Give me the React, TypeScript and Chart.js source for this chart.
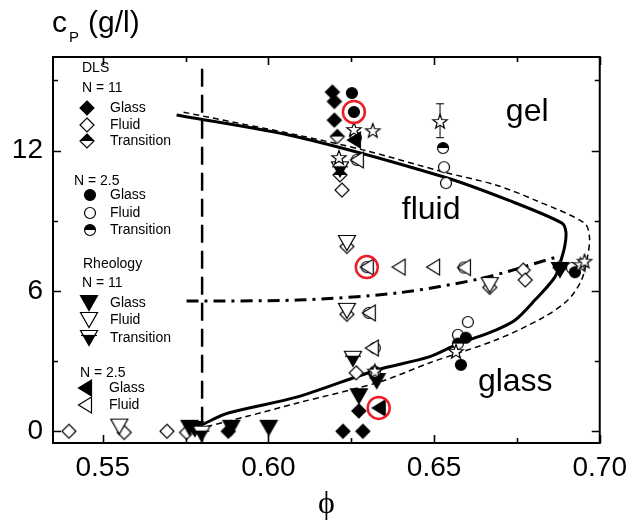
import React, { useEffect, useRef } from 'react';
import { Chart, registerables } from 'chart.js';
Chart.register(...registerables);

type P = [number, number];

// axis ticks
const xTicks = [0.55, 0.6, 0.65, 0.7];
const xMinorTicks = [0.575, 0.625, 0.675];
const yTicks = [0, 6, 12];
const yMinorTicks = [3, 9, 15];

// DLS, N = 11 (diamonds)
const dls11Glass: P[] = [[0.6193, 14.5], [0.6199, 14.1], [0.6199, 13.3], [0.6225, 0], [0.6285, 0], [0.6273, 0.87], [0.5879, 0]];
const dls11Fluid: P[] = [[0.5398, 0], [0.5565, -0.05], [0.5694, 0], [0.5753, -0.05], [0.6265, 2.5], [0.6237, 7.9], [0.6237, 5.0], [0.6668, 6.15], [0.6769, 6.89], [0.6775, 6.47], [0.688, 7.0], [0.6222, 10.31]];
const dls11Trans: P[] = [[0.6208, 12.6], [0.6216, 10.96]];

// DLS, N = 2.5 (circles)
const dls25Glass: P[] = [[0.6252, 14.46], [0.6258, 13.65], [0.6581, 2.84], [0.6596, 4.0], [0.6925, 6.8]];
const dls25Fluid: P[] = [[0.6264, 12.55], [0.6267, 11.6], [0.653, 11.29], [0.6536, 10.61], [0.6297, 7.02], [0.659, 7.0], [0.6303, 5.06], [0.6321, 3.56], [0.6602, 4.67], [0.6572, 4.12], [0.6916, 6.98]];
const dls25Trans: P[] = [[0.6527, 12.11], [0.6321, 2.55], [0.6572, 3.75]];

// Rheology, N = 11 (down triangles)
const rh11Glass: P[] = [[0.5762, 0.15], [0.5778, 0.1], [0.5888, 0.15], [0.6001, 0.15], [0.6273, 1.5], [0.6327, 2.15], [0.688, 6.9]];
const rh11Fluid: P[] = [[0.555, 0.2], [0.6237, 8.05], [0.6237, 5.15], [0.6668, 6.25]];
const rh11Trans: P[] = [[0.5798, -0.1], [0.6255, 3.1], [0.6216, 11.2]];

// Rheology, N = 2.5 (left triangles)
const rh25Glass: P[] = [[0.6333, 1.0], [0.6258, 12.45]];
const rh25Fluid: P[] = [[0.6267, 11.6], [0.6297, 7.02], [0.6393, 7.02], [0.6497, 7.02], [0.659, 7.0], [0.6303, 5.06], [0.6312, 3.56]];

// open stars
const stars: P[] = [[0.6258, 12.88], [0.6315, 12.83], [0.6213, 11.68], [0.6518, 13.22], [0.6321, 2.55], [0.6566, 3.39], [0.6942, 7.1], [0.6954, 7.25]];
const starErrorBar: P[] = [[0.6518, 12.55], [0.6518, 14.0]];

// highlighted points (red rings)
const highlighted: P[] = [[0.6258, 13.65], [0.6297, 7.02], [0.6333, 1.0]];

// boundary lines
const glassLine: P[] = [[0.5723, 13.52], [0.6088, 12.58], [0.653, 10.87], [0.6724, 9.88], [0.6886, 8.9], [0.6898, 8.52], [0.6895, 7.96], [0.6886, 7.45], [0.6865, 6.6], [0.6805, 5.62], [0.6745, 4.76], [0.6686, 4.33], [0.6566, 3.69], [0.6485, 3.18], [0.6327, 2.62], [0.6088, 1.47], [0.5879, 0.78], [0.5798, 0.27]];
const glassLineDashed: P[] = [[0.5744, 13.64], [0.6088, 12.66], [0.6288, 12.02], [0.653, 11.08], [0.6686, 10.53], [0.6805, 9.88], [0.6954, 8.9], [0.6969, 8.3], [0.6963, 7.45], [0.6945, 6.47], [0.6904, 5.61], [0.6826, 4.84], [0.6686, 3.9], [0.6485, 2.92], [0.6336, 2.11], [0.6088, 1.21], [0.5939, 0.65], [0.581, 0.18]];
const gelLine: P[] = [[0.5753, 5.57], [0.6088, 5.61], [0.6387, 5.91], [0.6647, 6.55], [0.688, 7.49]];
const phiLimit: P[] = [[0.58, 15.5], [0.58, -0.45]];

// region labels
const regionLabels: [string, number, number][] = [['gel', 0.6781, 13.65], ['fluid', 0.6491, 9.46], ['glass', 0.6745, 2.11]];

const FONT = '"Liberation Sans", Arial, sans-serif';

type Shape = 'diamond' | 'circle' | 'down' | 'left' | 'star';
type Fill = 'open' | 'filled' | 'half';

function makeMarker(shape: Shape, fill: Fill): HTMLCanvasElement {
  const s = 22;
  const c = document.createElement('canvas');
  c.width = s;
  c.height = s;
  const ctx = c.getContext('2d')!;
  const m = s / 2;
  const path = () => {
    ctx.beginPath();
    if (shape === 'diamond') {
      ctx.moveTo(m, m - 7); ctx.lineTo(m + 7, m); ctx.lineTo(m, m + 7); ctx.lineTo(m - 7, m);
    } else if (shape === 'circle') {
      ctx.arc(m, m, 5.5, 0, Math.PI * 2);
    } else if (shape === 'down') {
      ctx.moveTo(m - 8.5, m - 7.5); ctx.lineTo(m + 8.5, m - 7.5); ctx.lineTo(m, m + 7.5);
    } else if (shape === 'left') {
      ctx.moveTo(m + 6.5, m - 8); ctx.lineTo(m + 6.5, m + 8); ctx.lineTo(m - 6.5, m);
    } else {
      for (let i = 0; i < 10; i++) {
        const r = i % 2 === 0 ? 7.5 : 3.1;
        const a = -Math.PI / 2 + (i * Math.PI) / 5;
        const px = m + r * Math.cos(a);
        const py = m + r * Math.sin(a);
        if (i === 0) ctx.moveTo(px, py); else ctx.lineTo(px, py);
      }
    }
    ctx.closePath();
  };
  ctx.lineWidth = 1.2;
  ctx.strokeStyle = '#000';
  path();
  ctx.fillStyle = fill === 'filled' ? '#000' : '#fff';
  ctx.fill();
  if (fill === 'half') {
    ctx.save();
    path();
    ctx.clip();
    ctx.fillStyle = '#000';
    if (shape === 'down') ctx.fillRect(0, m - 2.5, s, s);
    else ctx.fillRect(0, 0, s, m);
    ctx.restore();
    if (shape === 'down') {
      ctx.beginPath(); ctx.moveTo(m - 8, m - 2.5); ctx.lineTo(m + 8, m - 2.5); ctx.stroke();
    }
  }
  path();
  ctx.stroke();
  return c;
}

const toXY = (d: P[]) => d.map(([x, y]) => ({ x, y }));

export default function App() {
  const ref = useRef<HTMLCanvasElement>(null);
  useEffect(() => {
    const canvas = ref.current!;
    const mk = {
      dG: makeMarker('diamond', 'filled'), dF: makeMarker('diamond', 'open'), dT: makeMarker('diamond', 'half'),
      cG: makeMarker('circle', 'filled'), cF: makeMarker('circle', 'open'), cT: makeMarker('circle', 'half'),
      tG: makeMarker('down', 'filled'), tF: makeMarker('down', 'open'), tT: makeMarker('down', 'half'),
      lG: makeMarker('left', 'filled'), lF: makeMarker('left', 'open'),
      st: makeMarker('star', 'open'),
    };
    const markers = (data: P[], style: HTMLCanvasElement, order: number) => ({
      data: toXY(data), pointStyle: style, pointRadius: 7, showLine: false, order,
    });
    const line = (data: P[], width: number, dash: number[], tension: number) => ({
      data: toXY(data), showLine: true, borderColor: '#000', borderWidth: width, borderDash: dash,
      pointRadius: 0, tension, order: 30, fill: false,
    });

    const frame = {
      id: 'frame',
      afterDraw(chart: any) {
        const { ctx, chartArea: a, scales } = chart;
        const xs = scales.x, ys = scales.y;
        ctx.save();
        ctx.strokeStyle = '#000';
        ctx.lineWidth = 2;
        ctx.strokeRect(a.left, a.top, a.right - a.left, a.bottom - a.top);
        const tick = (vals: number[], len: number) => {
          vals.forEach((v) => {
            const px = Math.round(xs.getPixelForValue(v)) + 0.5;
            ctx.beginPath();
            ctx.moveTo(px, a.bottom); ctx.lineTo(px, a.bottom - len);
            ctx.moveTo(px, a.top); ctx.lineTo(px, a.top + len);
            ctx.stroke();
          });
        };
        const tickY = (vals: number[], len: number) => {
          vals.forEach((v) => {
            const py = Math.round(ys.getPixelForValue(v)) + 0.5;
            ctx.beginPath();
            ctx.moveTo(a.left, py); ctx.lineTo(a.left + len, py);
            ctx.moveTo(a.right, py); ctx.lineTo(a.right - len, py);
            ctx.stroke();
          });
        };
        ctx.lineWidth = 1.6;
        tick(xTicks, 8); tick(xMinorTicks, 5);
        tickY(yTicks, 8); tickY(yMinorTicks, 5);

        // region labels
        ctx.fillStyle = '#000';
        ctx.font = `32px ${FONT}`;
        ctx.textAlign = 'center';
        ctx.textBaseline = 'middle';
        regionLabels.forEach(([t, x, y]) => ctx.fillText(t, xs.getPixelForValue(x), ys.getPixelForValue(y)));

        // axis titles
        ctx.textAlign = 'left';
        ctx.textBaseline = 'alphabetic';
        ctx.font = `30px ${FONT}`;
        ctx.fillText('c', 52, 32);
        ctx.font = `15px ${FONT}`;
        ctx.fillText('P', 69, 42);
        ctx.font = `30px ${FONT}`;
        ctx.fillText('(g/l)', 88, 32);
        ctx.font = '32px "Liberation Serif", "DejaVu Serif", serif';
        ctx.textAlign = 'center';
        ctx.fillText('\u03D5', (a.left + a.right) / 2, 513);

        // legend
        ctx.font = `14px ${FONT}`;
        ctx.textAlign = 'left';
        ctx.textBaseline = 'middle';
        const texts: [string, number, number][] = [
          ['DLS', 82, 68], ['N = 11', 82, 88], ['Glass', 110, 108], ['Fluid', 110, 125], ['Transition', 110, 141],
          ['N = 2.5', 74, 181], ['Glass', 110, 195], ['Fluid', 110, 213], ['Transition', 110, 230],
          ['Rheology', 83, 264], ['N = 11', 82, 283], ['Glass', 110, 303], ['Fluid', 110, 320], ['Transition', 110, 338],
          ['N = 2.5', 80, 373], ['Glass', 109, 388], ['Fluid', 109, 405],
        ];
        texts.forEach(([t, x, y]) => ctx.fillText(t, x, y));
        const lm: [HTMLCanvasElement, number, number][] = [
          [mk.dG, 87, 108], [mk.dF, 87, 125], [mk.dT, 87, 141],
          [mk.cG, 90, 195], [mk.cF, 90, 213], [mk.cT, 90, 230],
          [mk.tG, 89, 303], [mk.tF, 89, 320], [mk.tT, 89, 338],
          [mk.lG, 85, 388], [mk.lF, 85, 405],
        ];
        lm.forEach(([img, x, y]) => ctx.drawImage(img, x - img.width / 2, y - img.height / 2));
        ctx.restore();
      },
    };

    const chart = new Chart(canvas, {
      type: 'scatter',
      data: {
        datasets: [
          {
            data: toXY(highlighted), pointStyle: 'circle', pointRadius: 11, pointBorderWidth: 2.5,
            pointBorderColor: '#ee1c24', pointBackgroundColor: 'rgba(0,0,0,0)', showLine: false, order: 0,
          } as any,
          markers(stars, mk.st, 5),
          markers(rh25Glass, mk.lG, 6),
          markers(rh25Fluid, mk.lF, 7),
          markers(dls25Trans, mk.cT, 8),
          markers(dls25Glass, mk.cG, 8),
          markers(dls25Fluid, mk.cF, 9),
          markers(rh11Trans, mk.tT, 10),
          markers(rh11Glass, mk.tG, 10),
          markers(rh11Fluid, mk.tF, 11),
          markers(dls11Glass, mk.dG, 12),
          markers(dls11Trans, mk.dT, 12),
          markers(dls11Fluid, mk.dF, 13),
          {
            data: toXY(starErrorBar), showLine: true, borderColor: '#000', borderWidth: 1,
            pointStyle: 'line', pointRadius: 4, pointBorderWidth: 1, pointBorderColor: '#000', order: 20,
          } as any,
          line(glassLine, 3, [], 0.3),
          line(glassLineDashed, 1.5, [6, 4], 0.3),
          line(gelLine, 3, [12, 6, 3, 6], 0.3),
          line(phiLimit, 2.5, [18, 8], 0),
        ],
      },
      options: {
        animation: false,
        responsive: false,
        devicePixelRatio: 1,
        events: [],
        layout: { padding: { top: 57, right: 30, left: 0, bottom: 0 } },
        plugins: { legend: { display: false }, tooltip: { enabled: false } },
        scales: {
          x: {
            type: 'linear', min: 0.535, max: 0.7,
            grid: { display: false, drawTicks: false },
            border: { display: false },
            afterBuildTicks: (s: any) => { s.ticks = xTicks.map((v) => ({ value: v })); },
            afterFit: (s: any) => { s.height = 78; },
            ticks: {
              padding: 8, color: '#000', maxRotation: 0, autoSkip: false,
              font: { family: FONT, size: 28, lineHeight: 1.2 },
              callback: (v: any) => Number(v).toFixed(2),
            },
          },
          y: {
            type: 'linear', min: -0.5, max: 16,
            grid: { display: false, drawTicks: false },
            border: { display: false },
            afterBuildTicks: (s: any) => { s.ticks = yTicks.map((v) => ({ value: v })); },
            afterFit: (s: any) => { s.width = 53; },
            ticks: {
              padding: 10, color: '#000', autoSkip: false,
              font: { family: FONT, size: 28, lineHeight: 1.2 },
              callback: (v: any) => String(v),
            },
          },
        },
      },
      plugins: [frame],
    } as any);
    return () => chart.destroy();
  }, []);

  return (
    <div style={{ position: 'fixed', left: 0, top: 0, width: 635, height: 521, background: '#fff' }}>
      <canvas ref={ref} width={635} height={521} style={{ width: 635, height: 521, display: 'block' }} />
    </div>
  );
}
